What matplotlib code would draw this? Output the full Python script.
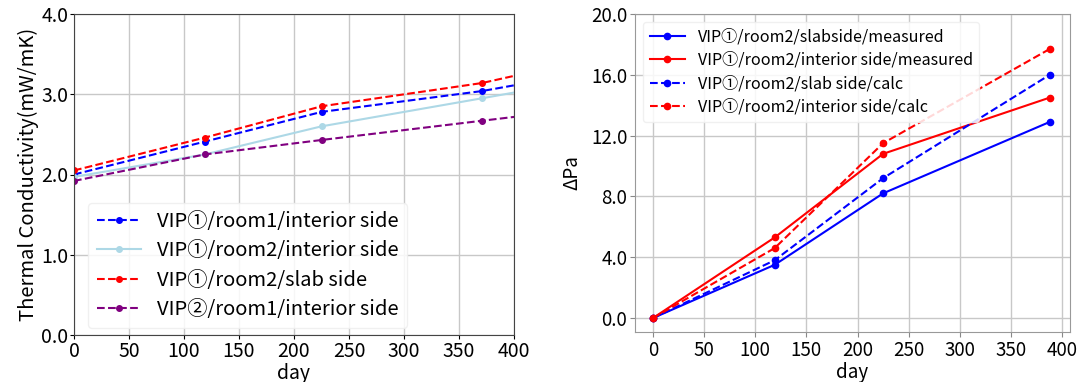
import numpy as np
import matplotlib.pyplot as plt

plt.rcParams['font.family'] = ['Noto Sans CJK JP', 'DejaVu Sans']

# left chart: thermal conductivity
days_l = [0, 119, 225, 371, 420]
k_r1_int = [2.00, 2.41, 2.78, 3.04, 3.16]
k_r2_int = [1.97, 2.25, 2.60, 2.95, 3.07]
k_r2_slab = [2.05, 2.46, 2.85, 3.14, 3.29]
k_vip2_r1 = [1.92, 2.25, 2.43, 2.67, 2.75]

# right chart: pressure rise
days_r = [0, 119, 225, 388]
p_slab_meas = [0.0, 3.5, 8.2, 12.9]
p_int_meas = [0.0, 5.3, 10.8, 14.5]
p_slab_calc = [0.0, 3.8, 9.2, 16.0]
p_int_calc = [0.0, 4.6, 11.5, 17.7]

fig = plt.figure(figsize=(10.82, 3.82), dpi=100)
W, H = 1082, 382
ax1 = fig.add_axes([74 / W, (H - 335) / H, (514 - 74) / W, (335 - 14) / H])
ax2 = fig.add_axes([635 / W, (H - 332) / H, (1070 - 635) / W, (332 - 14) / H])

mk = dict(marker='o', markersize=4, markevery=slice(0, 4))
ax1.plot(days_l, k_r1_int, '--', color='blue', label='VIP①/room1/interior side', **mk)
ax1.plot(days_l, k_r2_int, '-', color='lightblue', label='VIP①/room2/interior side', **mk)
ax1.plot(days_l, k_r2_slab, '--', color='red', label='VIP①/room2/slab side', **mk)
ax1.plot(days_l, k_vip2_r1, '--', color='purple', label='VIP②/room1/interior side', **mk)
ax1.set_xlim(0, 400)
ax1.set_ylim(0, 4.0)
ax1.set_xticks(np.arange(0, 401, 50))
ax1.set_yticks(np.arange(0, 4.01, 1.0))
ax1.yaxis.set_major_formatter(plt.FormatStrFormatter('%.1f'))
ax1.grid(True, color='#c8c8c8', linewidth=1)
ax1.tick_params(labelsize=14, length=3, width=0.8, pad=1)
ax1.set_xlabel('day', fontsize=14, labelpad=1)
ax1.set_ylabel('Thermal Conductivity(mW/mK)', fontsize=14.5, labelpad=2)
ax1.legend(loc='lower left', bbox_to_anchor=(0.01, -0.01), fontsize=14.5,
           handlelength=2.2, labelspacing=0.42, framealpha=0.85, edgecolor='#eeeeee')
for s in ax1.spines.values():
    s.set_color('#444444')

ax2.plot(days_r, p_slab_meas, '-', color='blue', marker='o', markersize=4.5, label='VIP①/room2/slabside/measured')
ax2.plot(days_r, p_int_meas, '-', color='red', marker='o', markersize=4.5, label='VIP①/room2/interior side/measured')
ax2.plot(days_r, p_slab_calc, '--', color='blue', marker='o', markersize=4.5, label='VIP①/room2/slab side/calc')
ax2.plot(days_r, p_int_calc, '--', color='red', marker='o', markersize=4.5, label='VIP①/room2/interior side/calc')
ax2.set_xlim(-17.6, 407.8)
ax2.set_ylim(-0.92, 20.0)
ax2.set_xticks(np.arange(0, 401, 50))
ax2.set_yticks(np.arange(0, 20.01, 4.0))
ax2.yaxis.set_major_formatter(plt.FormatStrFormatter('%.1f'))
ax2.grid(True, color='#c8c8c8', linewidth=1)
ax2.tick_params(labelsize=13.5, color='#888888', length=3.5, pad=2)
ax2.set_xlabel('day', fontsize=13.5, labelpad=1)
ax2.set_ylabel('ΔPa', fontsize=13.5, labelpad=6)
ax2.legend(loc='upper left', fontsize=11.6, handlelength=2.2, labelspacing=0.4,
           framealpha=0.85, edgecolor='#eeeeee')
for s in ax2.spines.values():
    s.set_color('#999999')

fig.savefig('out.png', dpi=100)
